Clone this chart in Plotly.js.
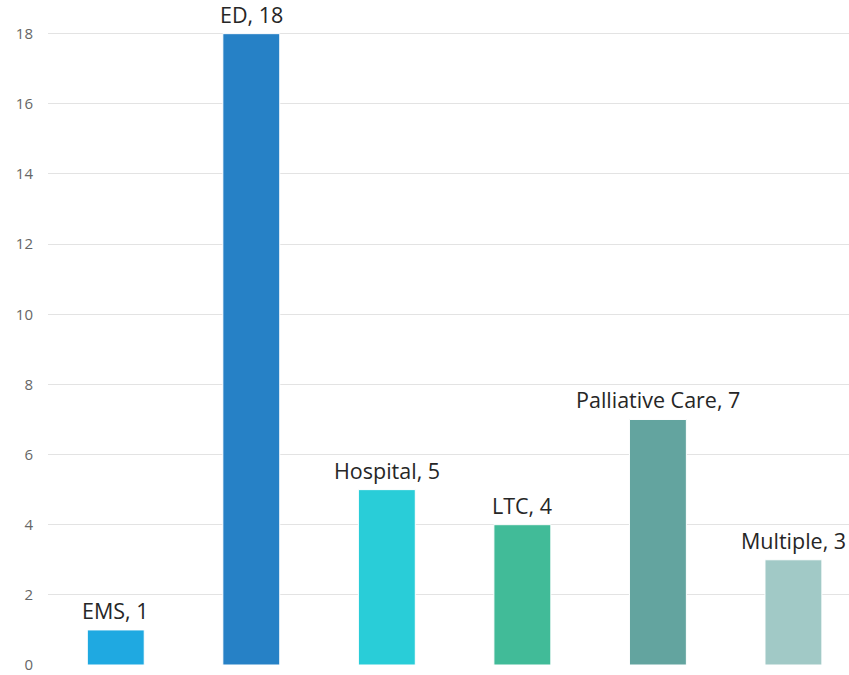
<!DOCTYPE html>
<html>
<head>
<meta charset="utf-8">
<script src="https://cdn.plot.ly/plotly-3.0.1.min.js"></script>
<style>html,body{margin:0;padding:0;background:#fff;}#chart{width:849px;height:675px;}</style>
</head>
<body>
<div id="chart"></div>
<script>
const categories = ["EMS", "ED", "Hospital", "LTC", "Palliative Care", "Multiple"];
const values = [1, 18, 5, 4, 7, 3];
const colors = ["#1FA9E1", "#2681C6", "#29CDD8", "#41BB98", "#63A49F", "#A1C9C6"];
const tickVals = [0, 2, 4, 6, 8, 10, 12, 14, 16, 18];

const labels = categories.map((c, i) => c + ", " + values[i]);

const trace = {
  type: "bar",
  x: categories,
  y: values,
  marker: { color: colors, line: { color: "#ffffff", width: 1 } },
  hoverinfo: "none"
};

const annotations = categories.map((c, i) => ({
  x: c, y: values[i], xref: "x", yref: "y",
  text: labels[i], showarrow: false, yanchor: "bottom", yshift: 3,
  font: { family: "'Open Sans', sans-serif", size: 21.5, color: "#262626" }
}));

const layout = {
  width: 849, height: 675,
  margin: { l: 48, r: 0, t: 0, b: 10 },
  paper_bgcolor: "#ffffff", plot_bgcolor: "#ffffff",
  showlegend: false,
  bargap: 0.58,
  xaxis: {
    range: [-0.5, 5.41], showticklabels: false, showgrid: false, zeroline: false,
    showline: false, ticks: ""
  },
  yaxis: {
    range: [0, 18.96], tickvals: tickVals, ticktext: tickVals.map(String),
    showgrid: true, gridcolor: "#e3e3e3", gridwidth: 1, zeroline: false,
    showline: false, ticks: "", ticklabelstandoff: 14, ticklabeloverflow: "allow",
    tickfont: { family: "'Open Sans', sans-serif", size: 15, color: "#666666" }
  },
  annotations: annotations
};

Plotly.newPlot("chart", [trace], layout, { staticPlot: true, displayModeBar: false });
</script>
</body>
</html>
